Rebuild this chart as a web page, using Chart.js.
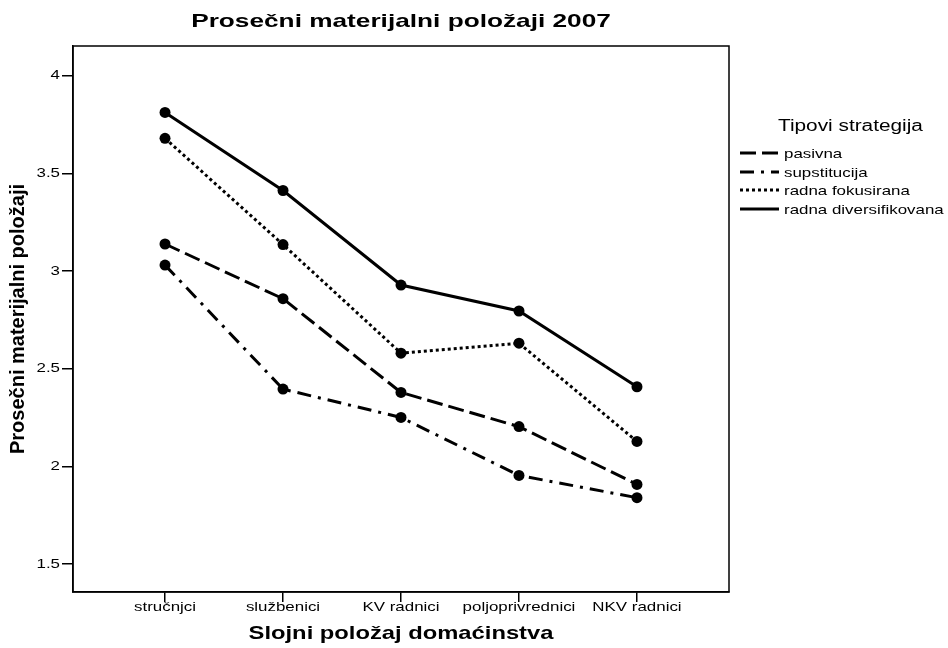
<!DOCTYPE html>
<html>
<head>
<meta charset="utf-8">
<script src="https://cdn.jsdelivr.net/npm/chart.js@4.4.0/dist/chart.umd.min.js"></script>
<style>
  body { margin: 0; background: #fff; }
  canvas { display: block; }
</style>
</head>
<body>
<canvas id="grafik" width="948" height="648"></canvas>
<script>
// kategorije na x osi
var kategorije = ['stručnjci', 'službenici', 'KV radnici', 'poljoprivrednici', 'NKV radnici'];
var yTikovi = [1.5, 2, 2.5, 3, 3.5, 4];

// prosečne vrednosti po strategiji
var pasivna = [3.139, 2.859, 2.379, 2.204, 1.908];
var supstitucija = [3.031, 2.396, 2.251, 1.954, 1.840];
var radnaFokusirana = [3.680, 3.136, 2.580, 2.631, 2.128];
var radnaDiversifikovana = [3.813, 3.413, 2.929, 2.796, 2.408];

var FONT = '"Liberation Sans", Arial, sans-serif';
var RASTEG = 1.3; // original je razvucen po sirini

function tacke(niz) {
    return niz.map(function (v, i) { return { x: i, y: v }; });
}

function serija(naziv, niz, crtice) {
    return {
        label: naziv,
        data: tacke(niz),
        borderColor: '#000',
        backgroundColor: '#000',
        borderWidth: 3,
        borderDash: crtice,
        pointRadius: 5.5,
        pointBackgroundColor: '#000',
        pointBorderWidth: 0,
        tension: 0,
        fill: false
    };
}

// tekst razvucen horizontalno
function tekst(ctx, str, x, y, font, poravnanje, sx) {
    ctx.save();
    ctx.translate(x, y);
    ctx.scale(sx, 1);
    ctx.font = font;
    ctx.textAlign = poravnanje;
    ctx.textBaseline = 'middle';
    ctx.fillStyle = '#000';
    ctx.fillText(str, 0, 0);
    ctx.restore();
}

// okvir oko oblasti grafika
var okvir = {
    id: 'okvir',
    afterDatasetsDraw: function (chart) {
        var a = chart.chartArea;
        var ctx = chart.ctx;
        ctx.save();
        ctx.strokeStyle = '#000';
        ctx.lineWidth = 1.5;
        ctx.strokeRect(a.left, a.top, a.right - a.left, a.bottom - a.top);
        ctx.restore();
    }
};

// natpisi osa i naslov
var natpisi = {
    id: 'natpisi',
    afterDraw: function (chart) {
        var ctx = chart.ctx;
        var sx = chart.scales.x;
        var sy = chart.scales.y;
        var a = chart.chartArea;

        kategorije.forEach(function (k, i) {
            tekst(ctx, k, sx.getPixelForValue(i), 607, '13px ' + FONT, 'center', RASTEG);
        });
        yTikovi.forEach(function (v) {
            tekst(ctx, String(v), a.left - 13, sy.getPixelForValue(v), '13px ' + FONT, 'right', RASTEG);
        });

        tekst(ctx, 'Prosečni materijalni položaji 2007', (a.left + a.right) / 2, 22, 'bold 19px ' + FONT, 'center', 1.38);
        tekst(ctx, 'Slojni položaj domaćinstva', (a.left + a.right) / 2, 634, 'bold 19px ' + FONT, 'center', 1.25);

        ctx.save();
        ctx.translate(18, (a.top + a.bottom) / 2);
        ctx.rotate(-Math.PI / 2);
        ctx.font = 'bold 20px ' + FONT;
        ctx.textAlign = 'center';
        ctx.textBaseline = 'middle';
        ctx.fillStyle = '#000';
        ctx.fillText('Prosečni materijalni položaji', 0, 0);
        ctx.restore();
    }
};

// legenda desno, crtana rucno
var legenda = {
    id: 'legenda',
    afterDraw: function (chart) {
        var ctx = chart.ctx;
        tekst(ctx, 'Tipovi strategija', 778, 127, '16px ' + FONT, 'left', RASTEG);
        var yPoz = [153, 172, 190, 209];
        chart.data.datasets.forEach(function (ds, i) {
            ctx.save();
            ctx.strokeStyle = '#000';
            ctx.lineWidth = 3;
            ctx.setLineDash(ds.borderDash || []);
            ctx.beginPath();
            ctx.moveTo(740, yPoz[i]);
            ctx.lineTo(779, yPoz[i]);
            ctx.stroke();
            ctx.restore();
            tekst(ctx, ds.label, 784, yPoz[i] + 1, '13px ' + FONT, 'left', RASTEG);
        });
    }
};

const config = {
    type: 'line',
    data: {
        datasets: [
            serija('pasivna', pasivna, [16, 6]),
            serija('supstitucija', supstitucija, [14, 7, 3, 7]),
            serija('radna fokusirana', radnaFokusirana, [3, 3]),
            serija('radna diversifikovana', radnaDiversifikovana, [])
        ]
    },
    options: {
        responsive: false,
        animation: false,
        devicePixelRatio: 1,
        layout: { padding: { top: 46, right: 219, left: 0, bottom: 0 } },
        plugins: {
            legend: { display: false },
            tooltip: { enabled: false },
            title: { display: false }
        },
        scales: {
            x: {
                type: 'linear',
                min: -0.78,
                max: 4.78,
                afterBuildTicks: function (s) {
                    s.ticks = kategorije.map(function (k, i) { return { value: i }; });
                },
                afterFit: function (s) { s.height = 56; },
                ticks: { display: false },
                grid: { drawOnChartArea: false, tickLength: 10, color: '#000', lineWidth: 1.5 },
                border: { display: true, color: '#000', width: 1.5 }
            },
            y: {
                type: 'linear',
                min: 1.357,
                max: 4.153,
                afterBuildTicks: function (s) {
                    s.ticks = yTikovi.map(function (v) { return { value: v }; });
                },
                afterFit: function (s) { s.width = 73; },
                ticks: { display: false },
                grid: { drawOnChartArea: false, tickLength: 11, color: '#000', lineWidth: 1.5 },
                border: { display: true, color: '#000', width: 1.5 }
            }
        }
    },
    plugins: [okvir, natpisi, legenda]
};

new Chart(document.getElementById('grafik').getContext('2d'), config);
</script>
</body>
</html>
